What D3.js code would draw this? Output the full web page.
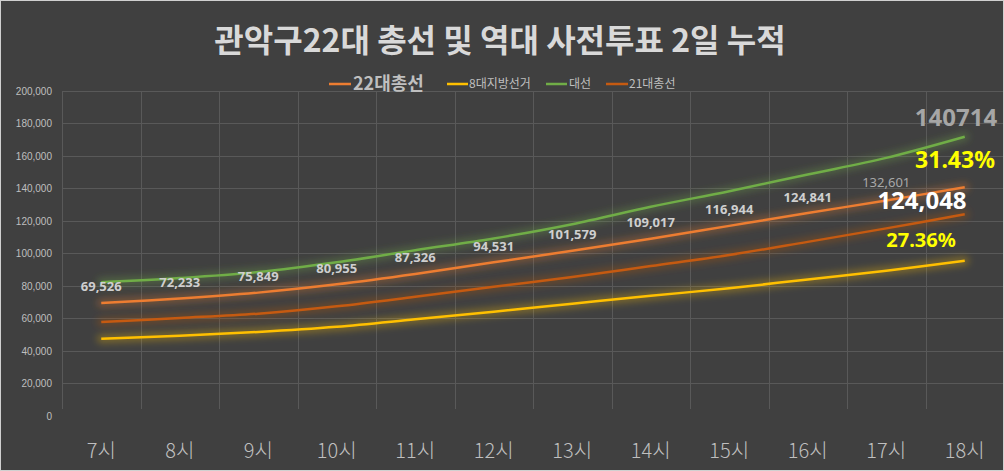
<!DOCTYPE html>
<html><head><meta charset="utf-8">
<script src="https://cdn.jsdelivr.net/npm/d3@7"></script>
<style>
html,body{margin:0;padding:0;background:#404040;}
svg{display:block;}
</style></head>
<body>
<svg id="chart" width="1004" height="471"></svg>
<script>
const categories = ['7시','8시','9시','10시','11시','12시','13시','14시','15시','16시','17시','18시'];
const s22 = [69526,72233,75849,80955,87326,94531,101579,109017,116944,124841,132601,140714];
const local8 = [47400,49300,51600,54800,59400,64100,69000,73900,78500,84000,89300,95500];
const pres = [82200,84800,88500,94500,102000,109200,118000,128700,138300,148600,158800,171800];
const s21 = [57700,60200,62900,67400,73300,79500,85400,92200,99000,107100,115400,124048];
const yTicks = [0,20000,40000,60000,80000,100000,120000,140000,160000,180000,200000];
const seriesNames = ['22대총선','8대지방선거','대선','21대총선'];
const title = '관악구22대 총선 및 역대 사전투표 2일 누적';
const notes = {total22:'140714', rate22:'31.43%', total21:'124,048', rate21:'27.36%'};

const svg = d3.select('#chart');
const W = 1004, H = 471;
svg.append('rect').attr('x',0.5).attr('y',0.5).attr('width',W-1).attr('height',H-1)
  .attr('fill','#404040').attr('stroke','#d0d0d0').attr('stroke-width',1);

const x = d3.scaleBand().domain(categories).range([62,1004]);
const y = d3.scaleLinear().domain([0,200000]).range([415.8,91]);
const cx = d => x(d) + x.bandwidth()/2;

const defs = svg.append('defs');
const f = defs.append('filter').attr('id','glow').attr('x','-20%').attr('y','-50%').attr('width','140%').attr('height','200%');
f.append('feGaussianBlur').attr('stdDeviation',3.5);

// gridlines
const grid = svg.append('g');
grid.selectAll('line.h').data(yTicks.filter(t=>t>0)).enter().append('line')
  .attr('x1',62).attr('x2',1003).attr('y1',d=>Math.round(y(d))+0.5).attr('y2',d=>Math.round(y(d))+0.5)
  .attr('stroke','#595959').attr('stroke-width',1);
const bounds = categories.map(c=>x(c));
grid.selectAll('line.v').data(bounds).enter().append('line')
  .attr('x1',d=>Math.round(d)+0.5).attr('x2',d=>Math.round(d)+0.5).attr('y1',91).attr('y2',409)
  .attr('stroke','#595959').attr('stroke-width',1);

// y axis labels
const yAxis = d3.axisLeft(y).tickValues(yTicks).tickSize(0).tickPadding(0).tickFormat(d3.format(','));
const ya = svg.append('g').attr('transform','translate(52,0)').call(yAxis);
ya.select('.domain').remove();
ya.selectAll('text').attr('fill','#bfbfbf').style('font-family','"Liberation Sans", Arial, sans-serif').style('font-size','10px');

// x axis labels
const xAxis = d3.axisBottom(x).tickSize(0).tickPadding(0);
const xa = svg.append('g').attr('transform','translate(0,444)').call(xAxis);
xa.select('.domain').remove();
xa.selectAll('text').attr('fill','#bfbfbf').style('font-family','"Noto Sans CJK KR", sans-serif').style('font-size','20px').style('font-weight','300');

// lines
const series = [
  {name:seriesNames[1], values:local8, color:'#FFC000'},
  {name:seriesNames[3], values:s21, color:'#C55A11'},
  {name:seriesNames[0], values:s22, color:'#ED7D31'},
  {name:seriesNames[2], values:pres, color:'#70AD47'}
];
const line = d3.line().x((d,i)=>cx(categories[i])).y(d=>y(d)).curve(d3.curveCatmullRom.alpha(0.5));
const gl = svg.append('g');
series.forEach(s=>{
  gl.append('path').attr('d',line(s.values)).attr('fill','none').attr('stroke',s.color)
    .attr('stroke-width',9).attr('stroke-opacity',0.3).attr('stroke-linecap','round').attr('filter','url(#glow)');
});
series.forEach(s=>{
  gl.append('path').attr('d',line(s.values)).attr('fill','none').attr('stroke',s.color)
    .attr('stroke-width',2.5).attr('stroke-linecap','butt');
});

// data labels for 22대총선
const lab = svg.append('g');
s22.forEach((v,i)=>{
  if(i===11) return;
  lab.append('text').attr('x',cx(categories[i])).attr('y',y(v)-(i===10?13:11.5))
    .attr('text-anchor','middle').attr('fill', i===10 ? '#a8a8a8' : '#cfcfcf')
    .style('font-family','"Noto Sans", sans-serif').style('font-size','13px')
    .style('font-weight', i===10 ? 'normal' : 'bold').text(d3.format(',')(v));
});

// big annotations
const ann = (t,xx,yy,size,color)=>svg.append('text').attr('x',xx).attr('y',yy).attr('text-anchor','middle')
  .attr('fill',color).style('font-family','"Noto Sans", sans-serif').style('font-size',size+'px').style('font-weight','bold').text(t);
ann(notes.total22,956,126,24,'#a6a6a6');
ann(notes.rate22,955,168,23,'#FFFF00');
ann(notes.total21,922,209,24,'#ffffff');
ann(notes.rate21,921,247,20,'#FFFF00');

// title
svg.append('text').attr('x',500).attr('y',52).attr('text-anchor','middle').attr('fill','#d9d9d9')
  .style('font-family','"Noto Sans CJK KR", sans-serif').style('font-size','32px').style('font-weight','bold').text(title);

// legend
const legendItems = [
  {name:seriesNames[0], color:'#ED7D31', x1:329, x2:351, tx:353, size:18, bold:true},
  {name:seriesNames[1], color:'#FFC000', x1:447, x2:468, tx:469, size:12, bold:false},
  {name:seriesNames[2], color:'#70AD47', x1:546, x2:567, tx:569, size:12, bold:false},
  {name:seriesNames[3], color:'#C55A11', x1:606, x2:628, tx:629, size:12, bold:false}
];
const lg = svg.append('g');
legendItems.forEach(it=>{
  lg.append('line').attr('x1',it.x1).attr('x2',it.x2).attr('y1',84).attr('y2',84).attr('stroke',it.color).attr('stroke-width',2.5);
  lg.append('text').attr('x',it.tx).attr('y',84).attr('dy','0.36em').attr('fill','#bfbfbf')
    .style('font-family','"Noto Sans CJK KR", sans-serif').style('font-size',it.size+'px')
    .style('font-weight',it.bold?'bold':'normal').text(it.name);
});
</script>
</body></html>
